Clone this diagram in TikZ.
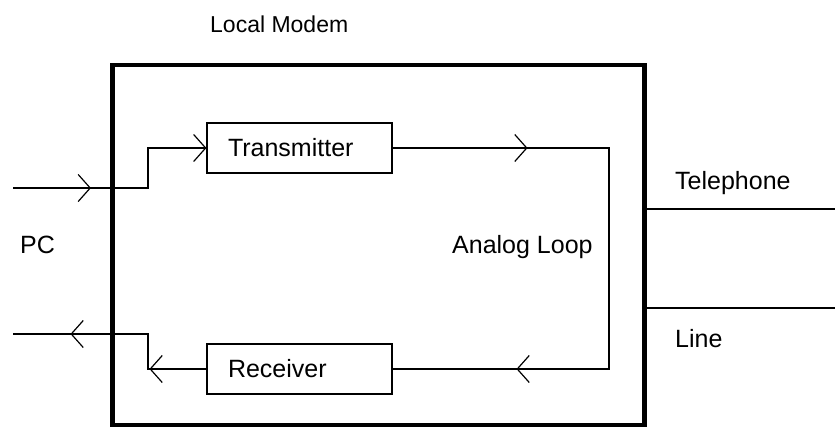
\documentclass[tikz,border=0pt]{standalone}
\usepackage{fontspec}
\setmainfont{Liberation Sans}
\usetikzlibrary{arrows.meta,decorations.markings}
\tikzset{mytip/.tip={Straight Barb[length=12pt,width=27pt,line width=1.2pt]}}
\newcommand\mybarb{\arrow{mytip}}
\begin{document}
\begin{tikzpicture}[x=1pt,y=-1pt,
  thinline/.style={line width=1.1pt},
  barb/.style={-mytip},
  lbl/.style={font=\fontsize{25}{30}\selectfont, inner sep=0pt, anchor=base west},
  unit/.style={draw, line width=1.1pt, minimum width=185pt, minimum height=50pt,
    text width=143pt, inner xsep=21pt, inner ysep=0pt, align=left,
    font=\fontsize{25}{30}\selectfont}
]
\useasboundingbox (0,0) rectangle (835,428);
\node[draw, line width=4.5pt, minimum width=532pt, minimum height=360pt, inner sep=0pt] (modem) at (378.5,245) {};
\node[lbl, font=\fontsize{23}{28}\selectfont] (title) at (210,33) {Local Modem};
\node[unit] (tx) at (299.5,148) {Transmitter};
\node[unit] (rx) at (299.5,369) {Receiver};
\node[lbl] (pc) at (20,253) {PC};
\node[lbl] (loop) at (452,253) {Analog Loop};
\node[lbl] (tel) at (675,189) {Telephone};
\node[lbl] (line) at (675,347) {Line};

\coordinate (pcin) at (13,188);
\coordinate (pcout) at (13,334);
\coordinate (lp) at (609,0);
\coordinate (tel1) at (835,209);
\coordinate (tel2) at (835,308);

\draw[thinline, barb, postaction={decorate},
  decoration={markings, mark=at position 78pt with {\mybarb}}]
  (pcin) -- (148,188) |- (tx.west);
\draw[thinline, postaction={decorate},
  decoration={markings, mark=at position 135pt with {\mybarb}, mark=at position 530pt with {\mybarb}}]
  (tx.east) -| (lp |- rx.east) -- (rx.east);
\draw[thinline, postaction={decorate},
  decoration={markings, mark=at position 57pt with {\mybarb}, mark=at position 171pt with {\mybarb}}]
  (rx.west) -- (148,369) -- (148,334) -- (pcout);
\draw[thinline] (modem.east |- tel1) -- (tel1);
\draw[thinline] (modem.east |- tel2) -- (tel2);
\end{tikzpicture}
\end{document}
